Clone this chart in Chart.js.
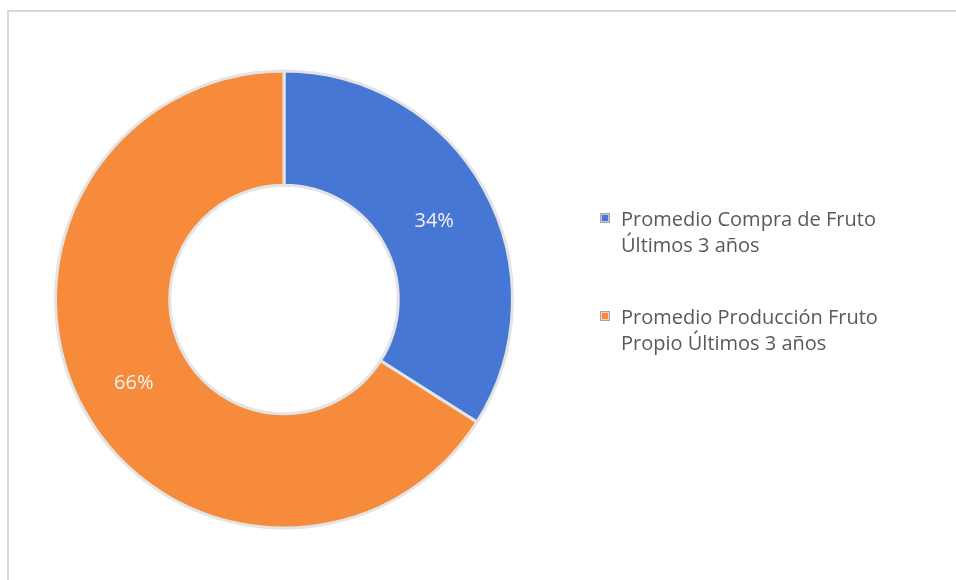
<!DOCTYPE html>
<html lang="es">
<head>
<meta charset="UTF-8">
<title>Promedio Compra / Producción de Fruto</title>
<script src="https://cdn.jsdelivr.net/npm/chart.js"></script>
<style>
  html, body { margin: 0; padding: 0; background: #fff; }
  #wrap { position: relative; width: 956px; height: 580px; overflow: hidden; }
  #frame { position: absolute; left: 7px; top: 10px; right: -10px; bottom: -10px;
           border-left: 2px solid #d9d9d9; border-top: 2px solid #d9d9d9; }
  #myChart { position: absolute; left: 0; top: 0; }
  #legend { position: absolute; left: 600px; top: 206px; font-family: "Open Sans", sans-serif;
            font-size: 20px; color: #595959; line-height: 26px; }
  .item { position: relative; padding-left: 21px; margin-bottom: 46px; white-space: nowrap; }
  .box { position: absolute; left: 0; top: 7px; width: 8px; height: 8px;
         border: 1px solid #a6a6a6; box-shadow: inset 0 0 0 1px rgba(255,255,255,0.6); }
</style>
</head>
<body>
<div id="wrap">
  <div id="frame"></div>
  <canvas id="myChart" width="956" height="580"></canvas>
  <div id="legend"></div>
</div>
<script>
  // data
  var labels = [
    ['Promedio Compra de Fruto', 'Últimos 3 años'],
    ['Promedio Producción Fruto', 'Propio Últimos 3 años']
  ];
  var values = [34, 66];
  var colors = ['#4677D5', '#F68B3C'];

  // percentage text in the middle of each slice
  var pctLabels = {
    id: 'pctLabels',
    afterDatasetsDraw: function (chart) {
      var ctx = chart.ctx;
      var meta = chart.getDatasetMeta(0);
      var total = values.reduce(function (a, b) { return a + b; }, 0);
      ctx.save();
      ctx.font = '20px "Open Sans", sans-serif';
      ctx.fillStyle = '#f2f2f2';
      ctx.textAlign = 'center';
      ctx.textBaseline = 'middle';
      meta.data.forEach(function (arc, i) {
        var p = arc.tooltipPosition();
        ctx.fillText(Math.round(values[i] / total * 100) + '%', p.x, p.y + (i === 0 ? 4 : 1));
      });
      ctx.restore();
    }
  };

  var ctx = document.getElementById('myChart').getContext('2d');
  var chart = new Chart(ctx, {
    type: 'doughnut',
    data: {
      labels: labels.map(function (l) { return l.join(' '); }),
      datasets: [{
        data: values,
        backgroundColor: colors,
        borderColor: '#e4e4e4',
        borderWidth: 3
      }]
    },
    options: {
      responsive: false,
      animation: false,
      cutout: '50%',
      layout: { padding: { left: 54, top: 69, right: 442, bottom: 50 } },
      plugins: {
        legend: { display: false },
        tooltip: { enabled: false }
      }
    },
    plugins: [pctLabels]
  });

  // legend built from the chart's own items
  var legendEl = document.getElementById('legend');
  chart.options.plugins.legend.labels.generateLabels(chart).forEach(function (item, i) {
    var div = document.createElement('div');
    div.className = 'item';
    var box = document.createElement('span');
    box.className = 'box';
    box.style.background = item.fillStyle;
    div.appendChild(box);
    labels[i].forEach(function (line) {
      var l = document.createElement('div');
      l.textContent = line;
      div.appendChild(l);
    });
    legendEl.appendChild(div);
  });
</script>
</body>
</html>
